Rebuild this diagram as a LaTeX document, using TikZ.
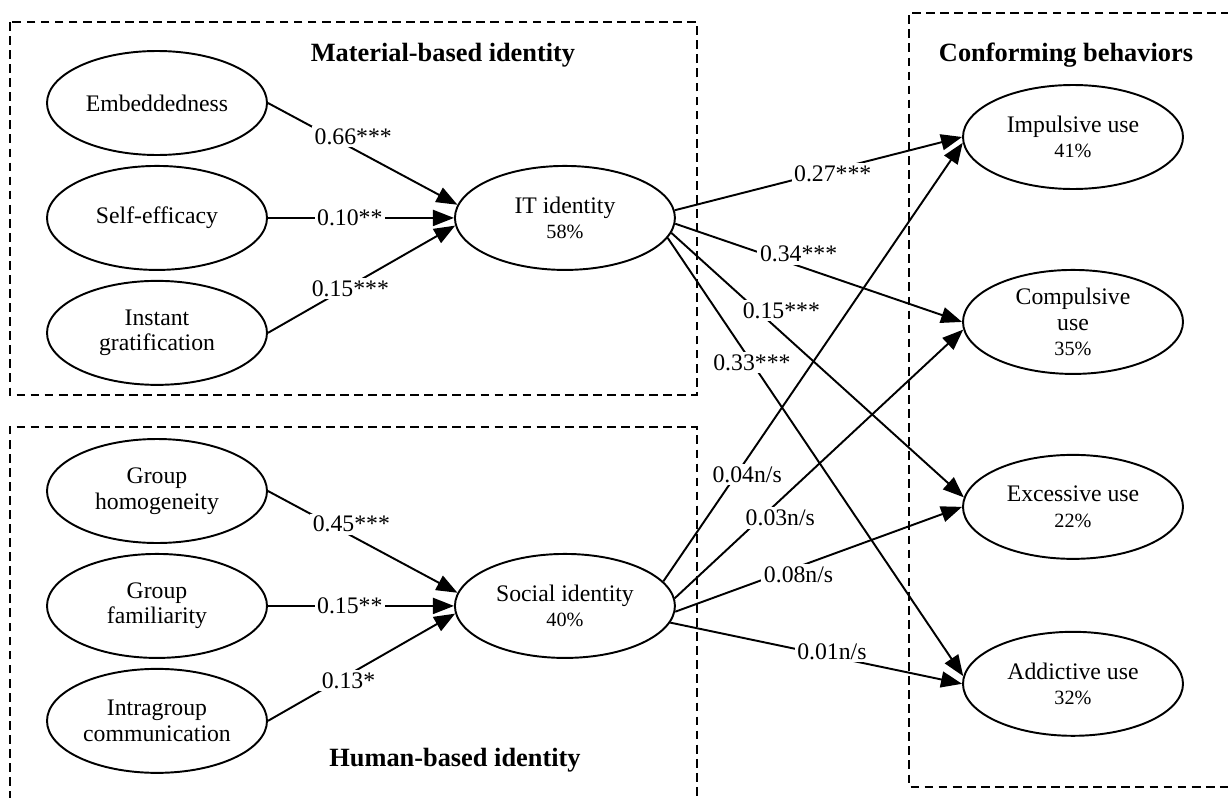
\documentclass[tikz,border=0pt]{standalone}
\usepackage{fontspec}
\setmainfont{Liberation Serif}
\usepackage{tikz}
\usetikzlibrary{arrows.meta,positioning,shapes.geometric}
\newcommand{\share}[1]{{\fontsize{11.5}{13}\selectfont #1\%}}

\begin{document}
\begin{tikzpicture}[
  font=\fontsize{13.5}{14.5}\selectfont,
  latent/.style={draw, ellipse, line width=1.1pt, minimum width=44mm, minimum height=20.8mm, inner sep=0pt, align=center},
  frame/.style={dash pattern=on 5pt off 3pt, line width=0.9pt},
  heading/.style={font=\fontsize{15}{17}\selectfont\bfseries},
  arr/.style={-{Triangle[length=4.2mm, width=3.2mm]}, line width=1.1pt},
  coef/.style={fill=white, inner sep=1.5pt}
]
\useasboundingbox (0,0) rectangle (24.56,-15.96);

% groups
\draw[frame] (0.2,-0.44) rectangle (13.94,-7.9);
\draw[frame] (0.2,-16) |- (13.94,-8.54) -- (13.94,-16);
\draw[frame] (24.6,-0.26) -| (18.18,-15.74) -- (24.6,-15.74);
\node[heading] (mat) at (8.86,-1.1) {Material-based identity};
\node[heading] (hum) at (9.1,-15.2) {Human-based identity};
\node[heading] (conf) at (21.32,-1.1) {Conforming behaviors};

% material-based antecedents
\node[latent] (emb) at (3.14,-2.06) {Embeddedness};
\node[latent, below=1.8mm of emb] (eff) {Self-efficacy};
\node[latent, below=1.8mm of eff] (grat) {Instant\\gratification};
\node[latent, right=37.2mm of eff] (it) {IT identity\\\share{58}};

% human-based antecedents
\node[latent] (hom) at (3.14,-9.82) {Group\\homogeneity};
\node[latent, below=1.8mm of hom] (fam) {Group\\familiarity};
\node[latent, below=1.8mm of fam] (comm) {Intragroup\\communication};
\node[latent, right=37.2mm of fam] (soc) {Social identity\\\share{40}};

% conforming behaviors
\node[latent] (imp) at (21.46,-2.74) {Impulsive use\\\share{41}};
\node[latent, below=15.8mm of imp] (comp) {Compulsive\\use\\\share{35}};
\node[latent, below=15.8mm of comp] (exc) {Excessive use\\\share{22}};
\node[latent, below=14.2mm of exc] (add) {Addictive use\\\share{32}};

% paths
\draw[arr] (emb.east) -- node[coef, pos=0.45, yshift=2.4mm] (e1) {0.66***} (it.173);
\draw[arr] (eff.east) -- node[coef, pos=0.44] (e2) {0.10**} (it.west);
\draw[arr] (grat.east) -- node[coef, pos=0.44, yshift=-0.6mm] (e3) {0.15***} (it.184);
\draw[arr] (hom.east) -- node[coef, pos=0.44, yshift=2.3mm] (e4) {0.45***} (soc.173);
\draw[arr] (fam.east) -- node[coef, pos=0.44] (e5) {0.15**} (soc.west);
\draw[arr] (comm.east) -- node[coef, pos=0.43, yshift=-1.2mm] (e6) {0.13*} (soc.184);
\draw[arr] (it.4) -- node[coef, pos=0.55, yshift=-0.7mm] (e7) {0.27***} (imp.west);
\draw[arr] (it.-3) -- node[coef, pos=0.43, yshift=2.4mm] (e8) {0.34***} (comp.west);
\draw[arr] (it.-8) -- node[coef, pos=0.376, yshift=4.4mm] (e9) {0.15***} (exc.175);
\draw[arr] (it.-11) -- node[coef, pos=0.285] (e10) {0.33***} (add.176);
\draw[arr] (soc.14) -- node[coef, pos=0.28, yshift=-3.2mm] (e11) {0.04n/s} (imp.183);
\draw[arr] (soc.4) -- node[coef, pos=0.366, yshift=-3.6mm] (e12) {0.03n/s} (comp.184);
\draw[arr] (soc.-3) -- node[coef, pos=0.43, yshift=-1.7mm] (e13) {0.08n/s} (exc.west);
\draw[arr] (soc.-9) -- node[coef, pos=0.554, yshift=1mm] (e14) {0.01n/s} (add.west);
\end{tikzpicture}
\end{document}
